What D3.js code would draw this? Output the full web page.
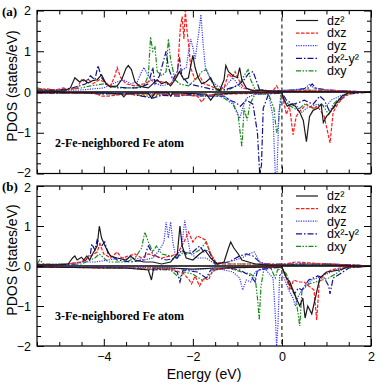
<!DOCTYPE html>
<html>
<head>
<meta charset="utf-8">
<script src="https://cdn.jsdelivr.net/npm/d3@7"></script>
<style>
  body { margin: 0; background: #fff; }
  .chart text { font-family: "Liberation Sans", Arial, sans-serif; }
  .chart .tag { font-family: "Liberation Serif", "Times New Roman", serif; font-weight: bold; }
</style>
</head>
<body>
<div class="chart"></div>
<script>
// orbital names, same order in both panels
var orbitals = ["dz\u00B2", "dxz", "dyz", "dx\u00B2-y\u00B2", "dxy"];
var panelTags = ["(a)", "(b)"];
var panelNotes = ["2-Fe-neighbored Fe atom", "3-Fe-neighbored Fe atom"];
var xMajor = [-4, -2, 0, 2];
var yMajor = [-2, -1, 0, 1, 2];

// ---- panel (a) : [energy eV, PDOS] ----
var aDz2Up = [[-5.5,0.02],[-5.2,0.03],[-4.9,0.02],[-4.75,0.1],[-4.65,0.35],[-4.55,0.25],[-4.45,0.3],[-4.35,0.22],[-4.25,0.28],[-4.15,0.3],[-4.05,0.42],[-3.95,0.2],[-3.85,0.12],[-3.7,0.15],[-3.6,0.3],[-3.5,0.58],[-3.45,0.65],[-3.38,0.55],[-3.3,0.25],[-3.2,0.15],[-3.1,0.12],[-3.0,0.1],[-2.9,0.2],[-2.8,0.3],[-2.7,0.2],[-2.6,0.25],[-2.5,0.15],[-2.4,0.3],[-2.3,0.5],[-2.2,0.3],[-2.1,0.35],[-2.0,0.9],[-1.95,0.6],[-1.88,0.35],[-1.8,0.2],[-1.7,0.25],[-1.6,0.35],[-1.5,0.1],[-1.4,0.03],[-1.3,0.3],[-1.26,0.65],[-1.2,0.5],[-1.1,0.4],[-1.0,0.35],[-0.95,0.6],[-0.9,0.3],[-0.8,0.1],[-0.7,0.05],[-0.6,0.02],[-0.45,0.05],[-0.35,0.02],[-0.1,0.02],[0,0.01],[0.5,0.01],[1,0.01],[2,0]];
var aDz2Dn = [[-5.5,-0.01],[-4,-0.02],[-3.6,-0.05],[-3.55,-0.12],[-3.48,-0.03],[-3,-0.03],[-2.93,-0.15],[-2.85,-0.02],[-2.55,-0.02],[-2.5,-0.1],[-2.45,-0.02],[-1.7,-0.05],[-1.6,-0.2],[-1.5,-0.05],[-1.0,-0.03],[-0.5,-0.02],[0,-0.02],[0.05,-0.2],[0.12,-0.35],[0.2,-0.3],[0.3,-0.35],[0.4,-0.5],[0.48,-0.7],[0.55,-1.22],[0.62,-0.6],[0.7,-0.45],[0.8,-0.4],[0.88,-0.3],[0.93,-0.75],[1.0,-0.6],[1.08,-0.5],[1.2,-0.3],[1.35,-0.1],[1.5,-0.02],[2,0]];
var aDxzUp = [[-5.5,0.05],[-5.3,0.08],[-5.1,0.05],[-4.9,0.1],[-4.8,0.05],[-4.6,0.1],[-4.5,0.3],[-4.42,0.25],[-4.35,0.32],[-4.25,0.2],[-4.1,0.3],[-4.0,0.25],[-3.85,0.15],[-3.75,0.4],[-3.7,0.6],[-3.62,0.35],[-3.5,0.2],[-3.3,0.15],[-3.1,0.2],[-2.9,0.3],[-2.7,0.25],[-2.5,0.2],[-2.35,0.4],[-2.28,1.6],[-2.24,1.85],[-2.2,1.3],[-2.17,2.0],[-2.13,1.5],[-2.08,1.0],[-2.05,0.6],[-1.95,0.3],[-1.85,0.4],[-1.75,0.2],[-1.6,0.15],[-1.45,0.05],[-1.3,0.1],[-1.2,0.45],[-1.12,0.35],[-1.05,0.5],[-0.95,0.25],[-0.85,0.1],[-0.6,0.03],[-0.2,0.03],[-0.12,0.15],[-0.05,0.02],[0.3,0.03],[0.9,0.05],[1.5,0.02],[2,0]];
var aDxzDn = [[-5.5,-0.02],[-4.2,-0.03],[-4.05,-0.1],[-3.9,-0.1],[-3.5,-0.05],[-2.5,-0.05],[-1.9,-0.1],[-1.8,-0.25],[-1.7,-0.08],[-1.2,-0.05],[-0.5,-0.03],[0,-0.03],[0.05,-0.3],[0.1,-0.55],[0.17,-0.35],[0.25,-1.05],[0.32,-0.6],[0.42,-0.45],[0.55,-0.3],[0.63,-0.35],[0.72,-0.4],[0.8,-0.35],[0.95,-0.6],[1.08,-1.25],[1.15,-0.5],[1.25,-0.3],[1.4,-0.1],[1.6,-0.02],[2,0]];
var aDyzUp = [[-5.5,0.03],[-4.5,0.05],[-4.0,0.1],[-3.7,0.25],[-3.55,0.3],[-3.4,0.2],[-3.25,0.25],[-3.15,0.5],[-3.1,0.6],[-3.0,0.4],[-2.9,0.25],[-2.7,0.15],[-2.5,0.2],[-2.3,0.5],[-2.15,0.6],[-2.05,1.3],[-2.0,1.1],[-1.95,0.8],[-1.9,1.2],[-1.85,1.6],[-1.82,1.9],[-1.78,1.3],[-1.72,0.6],[-1.68,0.5],[-1.6,0.3],[-1.45,0.15],[-1.3,0.1],[-1.1,0.35],[-1.0,0.2],[-0.9,0.1],[-0.7,0.05],[-0.2,0.02],[0.2,0.05],[0.5,0.08],[0.63,0.2],[0.7,0.1],[1.0,0.05],[1.5,0.02],[2,0]];
var aDyzDn = [[-5.5,-0.02],[-3.5,-0.03],[-2.5,-0.05],[-1.8,-0.1],[-1.3,-0.1],[-1.1,-0.25],[-1.0,-0.5],[-0.95,-0.65],[-0.88,-0.4],[-0.8,-0.15],[-0.6,-0.05],[-0.3,-0.05],[-0.2,-0.6],[-0.15,-2.0],[-0.11,-2.0],[-0.07,-0.5],[0,-0.05],[0.1,-0.3],[0.3,-0.3],[0.45,-0.5],[0.55,-0.4],[0.65,-0.35],[0.8,-0.3],[1.0,-0.35],[1.1,-0.2],[1.3,-0.1],[1.5,-0.02],[2,0]];
var aDx2Up = [[-5.5,0.05],[-5.0,0.05],[-4.7,0.1],[-4.4,0.2],[-4.3,0.4],[-4.2,0.3],[-4.13,0.65],[-4.05,0.35],[-3.9,0.15],[-3.5,0.1],[-3.2,0.1],[-3.0,0.2],[-2.9,0.6],[-2.85,0.2],[-2.75,0.4],[-2.65,0.8],[-2.6,1.0],[-2.55,0.6],[-2.45,0.3],[-2.35,0.5],[-2.3,0.85],[-2.25,0.4],[-2.1,0.2],[-1.9,0.15],[-1.7,0.1],[-1.5,0.05],[-1.3,0.05],[-1.0,0.15],[-0.85,0.3],[-0.75,0.45],[-0.65,0.5],[-0.58,0.3],[-0.5,0.05],[-0.2,0.02],[0.3,0.05],[0.6,0.1],[0.68,0.2],[0.75,0.1],[1.0,0.05],[1.5,0.02],[2,0]];
var aDx2Dn = [[-5.5,-0.03],[-4.5,-0.02],[-4.1,-0.05],[-3.5,-0.03],[-2.9,-0.15],[-2.7,-0.08],[-2.3,-0.1],[-2.0,-0.05],[-1.6,-0.1],[-1.3,-0.1],[-1.18,-0.2],[-1.05,-0.25],[-0.93,-0.35],[-0.8,-0.2],[-0.65,-0.3],[-0.55,-1.0],[-0.5,-2.0],[-0.46,-1.8],[-0.42,-0.4],[-0.3,-0.05],[0,-0.02],[0.1,-0.2],[0.25,-0.3],[0.4,-0.25],[0.5,-0.2],[0.7,-0.3],[0.85,-0.1],[0.95,-0.2],[1.08,-0.5],[1.15,-0.4],[1.3,-0.2],[1.5,-0.05],[2,0]];
var aDxyUp = [[-5.5,0.1],[-5.3,0.05],[-4.9,0.05],[-4.5,0.1],[-4.3,0.15],[-4.0,0.2],[-3.7,0.1],[-3.3,0.1],[-3.1,0.15],[-3.0,0.4],[-2.95,1.35],[-2.9,1.0],[-2.85,1.1],[-2.8,0.5],[-2.7,0.4],[-2.6,0.5],[-2.55,1.3],[-2.5,0.8],[-2.4,0.3],[-2.3,0.2],[-2.1,0.15],[-1.95,0.3],[-1.8,0.5],[-1.7,0.55],[-1.55,0.2],[-1.4,0.05],[-1.2,0.05],[-0.95,0.2],[-0.85,0.4],[-0.76,0.55],[-0.7,0.3],[-0.6,0.05],[-0.2,0.03],[0.5,0.05],[1,0.03],[2,0]];
var aDxyDn = [[-5.5,-0.03],[-4.5,-0.03],[-3.5,-0.05],[-3.0,-0.1],[-2.5,-0.05],[-1.8,-0.1],[-1.5,-0.05],[-1.3,-0.15],[-1.1,-0.3],[-0.98,-0.6],[-0.9,-1.35],[-0.85,-0.4],[-0.78,-0.7],[-0.72,-0.3],[-0.6,-0.05],[-0.3,-0.05],[-0.18,-0.4],[-0.12,-1.0],[-0.08,-0.8],[-0.03,-0.1],[0.05,-0.2],[0.2,-0.35],[0.35,-0.45],[0.5,-0.3],[0.7,-0.4],[0.9,-0.3],[1.05,-0.55],[1.15,-0.3],[1.3,-0.15],[1.5,-0.02],[2,0]];

// ---- panel (b) ----
var bDz2Up = [[-5.5,0.03],[-5.0,0.03],[-4.8,0.05],[-4.7,0.2],[-4.65,0.25],[-4.6,0.15],[-4.5,0.22],[-4.45,0.15],[-4.38,0.25],[-4.32,0.15],[-4.25,0.3],[-4.15,0.5],[-4.1,1.0],[-4.05,0.7],[-3.95,0.45],[-3.85,0.25],[-3.7,0.2],[-3.5,0.15],[-3.4,0.25],[-3.3,0.15],[-3.1,0.1],[-2.9,0.1],[-2.7,0.05],[-2.5,0.1],[-2.35,0.3],[-2.29,1.0],[-2.24,0.5],[-2.15,0.2],[-2.0,0.15],[-1.85,0.3],[-1.73,0.4],[-1.6,0.2],[-1.45,0.05],[-1.3,0.1],[-1.2,0.45],[-1.15,0.6],[-1.08,0.45],[-0.98,0.3],[-0.9,0.15],[-0.6,0.05],[-0.3,0.02],[0.5,0.02],[1,0.02],[2,0]];
var bDz2Dn = [[-5.5,-0.02],[-4.0,-0.05],[-3.5,-0.05],[-3.0,-0.1],[-2.93,-0.35],[-2.88,-0.05],[-2.5,-0.05],[-2.0,-0.08],[-1.5,-0.05],[-0.5,-0.03],[0,-0.03],[0.1,-0.3],[0.18,-0.4],[0.28,-0.7],[0.4,-1.0],[0.47,-0.8],[0.52,-1.3],[0.58,-1.0],[0.67,-1.2],[0.75,-0.8],[0.85,-0.3],[1.0,-0.15],[1.3,-0.1],[1.5,-0.02],[2,0]];
var bDxzUp = [[-5.5,0.05],[-5.0,0.03],[-4.5,0.1],[-4.3,0.25],[-4.15,0.35],[-4.09,0.55],[-4.0,0.3],[-3.85,0.2],[-3.7,0.35],[-3.6,0.2],[-3.45,0.25],[-3.3,0.3],[-3.15,0.2],[-3.0,0.3],[-2.85,0.25],[-2.7,0.2],[-2.5,0.25],[-2.35,0.3],[-2.2,0.6],[-2.1,0.85],[-2.0,0.6],[-1.9,0.75],[-1.8,0.7],[-1.72,0.65],[-1.6,0.3],[-1.5,0.1],[-1.3,0.05],[-1.0,0.05],[-0.5,0.05],[0,0.03],[0.3,0.1],[0.6,0.08],[1.0,0.05],[1.5,0.03],[2,0]];
var bDxzDn = [[-5.5,-0.02],[-4.0,-0.05],[-3.0,-0.05],[-2.4,-0.1],[-2.2,-0.2],[-2.08,-0.35],[-2.03,-0.45],[-1.95,-0.25],[-1.85,-0.5],[-1.75,-0.3],[-1.65,-0.35],[-1.55,-0.1],[-1.2,-0.05],[-0.5,-0.03],[0,-0.03],[0.1,-0.3],[0.18,-0.6],[0.26,-0.35],[0.38,-0.4],[0.5,-0.4],[0.6,-0.5],[0.72,-0.6],[0.78,-1.35],[0.84,-0.4],[0.95,-0.2],[1.1,-0.1],[1.3,-0.05],[2,0]];
var bDyzUp = [[-5.5,0.03],[-4.8,0.05],[-4.5,0.1],[-4.2,0.1],[-3.9,0.15],[-3.6,0.2],[-3.3,0.2],[-3.1,0.15],[-2.9,0.2],[-2.75,0.4],[-2.65,0.6],[-2.6,1.1],[-2.55,0.7],[-2.5,1.1],[-2.45,0.6],[-2.38,0.2],[-2.25,0.5],[-2.18,1.15],[-2.14,0.8],[-2.05,0.3],[-1.9,0.2],[-1.7,0.2],[-1.5,0.05],[-1.2,0.1],[-0.9,0.2],[-0.75,0.3],[-0.62,0.35],[-0.5,0.1],[-0.3,0.03],[0.3,0.05],[0.6,0.05],[1.0,0.05],[2,0]];
var bDyzDn = [[-5.5,-0.02],[-3.5,-0.03],[-2.5,-0.05],[-2.0,-0.1],[-1.5,-0.05],[-1.1,-0.15],[-0.95,-0.3],[-0.88,-0.6],[-0.8,-0.35],[-0.7,-0.4],[-0.6,-0.15],[-0.4,-0.05],[-0.2,-0.3],[-0.15,-1.2],[-0.12,-2.0],[-0.09,-1.5],[-0.05,-0.2],[0.05,-0.3],[0.15,-0.6],[0.25,-0.8],[0.3,-1.0],[0.37,-0.75],[0.45,-0.6],[0.55,-0.5],[0.65,-0.35],[0.8,-0.3],[1.0,-0.2],[1.2,-0.1],[1.5,-0.02],[2,0]];
var bDx2Up = [[-5.5,0.03],[-5.0,0.03],[-4.6,0.05],[-4.4,0.15],[-4.3,0.3],[-4.27,0.55],[-4.2,0.4],[-4.15,0.65],[-4.05,0.5],[-3.98,0.6],[-3.9,0.3],[-3.7,0.15],[-3.4,0.1],[-3.1,0.15],[-3.05,0.35],[-3.0,0.5],[-2.9,0.3],[-2.75,0.2],[-2.6,0.15],[-2.35,0.2],[-2.25,0.4],[-2.15,0.3],[-2.0,0.35],[-1.85,0.5],[-1.75,0.35],[-1.65,0.4],[-1.5,0.05],[-1.2,0.1],[-0.95,0.25],[-0.8,0.3],[-0.65,0.25],[-0.5,0.1],[-0.4,0.05],[0.1,0.05],[0.5,0.05],[1.0,0.05],[1.5,0.03],[2,0]];
var bDx2Dn = [[-5.5,-0.03],[-4.5,-0.03],[-3.5,-0.05],[-2.9,-0.1],[-2.5,-0.08],[-2.35,-0.15],[-2.29,-0.4],[-2.22,-0.1],[-1.9,-0.15],[-1.7,-0.3],[-1.6,-0.1],[-1.2,-0.05],[-0.95,-0.1],[-0.7,-0.25],[-0.6,-0.4],[-0.55,-0.1],[-0.2,-0.05],[0,-0.03],[0.1,-0.3],[0.18,-0.5],[0.28,-0.7],[0.37,-0.55],[0.45,-0.6],[0.6,-0.35],[0.8,-0.25],[0.95,-0.3],[1.05,-0.5],[1.08,-0.7],[1.15,-0.3],[1.3,-0.2],[1.5,-0.05],[2,0]];
var bDxyUp = [[-5.5,0.05],[-5.44,0.15],[-5.35,0.05],[-5.0,0.05],[-4.5,0.05],[-4.2,0.2],[-4.1,0.3],[-3.9,0.1],[-3.5,0.1],[-3.3,0.2],[-3.15,0.45],[-3.08,0.85],[-3.0,0.6],[-2.9,0.35],[-2.82,0.5],[-2.7,0.3],[-2.5,0.25],[-2.35,0.2],[-2.2,0.35],[-2.0,0.3],[-1.85,0.4],[-1.7,0.6],[-1.6,0.3],[-1.45,0.05],[-1.2,0.05],[-0.8,0.05],[-0.4,0.05],[0,0.03],[0.5,0.05],[1,0.05],[2,0]];
var bDxyDn = [[-5.5,-0.02],[-4.5,-0.03],[-3.5,-0.05],[-2.5,-0.1],[-2.3,-0.3],[-2.2,-0.15],[-2.0,-0.2],[-1.8,-0.35],[-1.7,-0.3],[-1.5,-0.1],[-1.2,-0.05],[-0.9,-0.15],[-0.7,-0.2],[-0.6,-0.3],[-0.54,-0.9],[-0.51,-1.35],[-0.47,-0.5],[-0.4,-0.05],[-0.25,-0.05],[-0.15,-0.3],[-0.1,-0.1],[0,-0.05],[0.1,-0.2],[0.2,-0.5],[0.3,-0.7],[0.4,-1.5],[0.45,-0.6],[0.6,-0.45],[0.75,-0.4],[0.9,-0.35],[1.05,-0.3],[1.2,-0.2],[1.4,-0.05],[2,0]];

var panelData = [
  [[aDz2Up, aDz2Dn], [aDxzUp, aDxzDn], [aDyzUp, aDyzDn], [aDx2Up, aDx2Dn], [aDxyUp, aDxyDn]],
  [[bDz2Up, bDz2Dn], [bDxzUp, bDxzDn], [bDyzUp, bDyzDn], [bDx2Up, bDx2Dn], [bDxyUp, bDxyDn]]
];

// styles per orbital
var colors = ["#1a1a1a", "#ff1a1a", "#3b3bff", "#101090", "#1a8c1a"];
var dashes = ["none", "3.5,1.5", "1.2,1.2", "6,2,1.5,2", "5,1.5,1.5,1.5,1.5,1.5"];

var width = 382, height = 384;
var left = 37, right = 371;
var boxes = [{top: 10.5, bottom: 173.5}, {top: 186, bottom: 346}];

var x = d3.scaleLinear().domain([-5.5, 2]).range([left, right]);

var svg = d3.select(".chart").append("svg")
            .attr("width", width)
            .attr("height", height);

var xMinor = d3.range(-5.5, 2.01, 0.5).filter(function(v) { return xMajor.indexOf(v) < 0; });
var yMinor = d3.range(-2, 2.01, 0.25).filter(function(v) { return yMajor.indexOf(v) < 0; });

boxes.forEach(function(box, p) {
  var y = d3.scaleLinear().domain([-2, 2]).range([box.bottom, box.top]);
  var g = svg.append("g");

  g.append("clipPath").attr("id", "clip" + p)
   .append("rect")
   .attr("x", left).attr("y", box.top)
   .attr("width", right - left).attr("height", box.bottom - box.top);

  // zero line and Fermi level
  g.append("line")
   .attr("x1", left).attr("x2", right)
   .attr("y1", y(0)).attr("y2", y(0))
   .attr("stroke", "#000").attr("stroke-width", 1.6);
  g.append("line")
   .attr("x1", x(0)).attr("x2", x(0))
   .attr("y1", box.top).attr("y2", box.bottom)
   .attr("stroke", "#000").attr("stroke-width", 1)
   .attr("stroke-dasharray", "4,3");

  var line = d3.line()
               .x(function(d) { return x(d[0]); })
               .y(function(d) { return y(d[1]); });

  var curves = g.append("g").attr("clip-path", "url(#clip" + p + ")");
  // draw dz2 last so the black line sits on top like in the figure
  [4, 3, 2, 1, 0].forEach(function(k) {
    panelData[p][k].forEach(function(spin) {
      curves.append("path")
            .attr("d", line(spin))
            .attr("fill", "none")
            .attr("stroke", colors[k])
            .attr("stroke-width", 1.2)
            .attr("stroke-dasharray", dashes[k]);
    });
  });

  // ticks on all four sides, pointing in
  function ticks(axis, vals, size, tx, ty, fmt) {
    var a = g.append("g")
             .attr("transform", "translate(" + tx + "," + ty + ")")
             .call(axis.tickValues(vals).tickSize(-size).tickPadding(6)
                       .tickFormat(fmt ? fmt : function() { return ""; }));
    a.select(".domain").remove();
    a.selectAll("line").attr("stroke", "#000");
    a.selectAll("text").attr("font-size", 12.5).attr("fill", "#000");
    return a;
  }
  var yl = ticks(d3.axisLeft(y), yMajor, 7, left, 0, d3.format("d"));
  // keep the -2 of (a) and the 2 of (b) apart, as in the figure
  yl.selectAll("text").attr("dy", function(d) {
    if (p === 0 && d === -2) return "0.2em";
    if (p === 1 && d === 2) return "0.42em";
    return "0.32em";
  });
  ticks(d3.axisLeft(y), yMinor, 4, left, 0);
  ticks(d3.axisRight(y), yMajor, 7, right, 0);
  ticks(d3.axisRight(y), yMinor, 4, right, 0);
  ticks(d3.axisTop(x), xMajor, 7, 0, box.top);
  ticks(d3.axisTop(x), xMinor, 4, 0, box.top);
  ticks(d3.axisBottom(x), xMajor, 7, 0, box.bottom, p === 1 ? d3.format("d") : null);
  ticks(d3.axisBottom(x), xMinor, 4, 0, box.bottom);

  g.append("rect")
   .attr("x", left).attr("y", box.top)
   .attr("width", right - left).attr("height", box.bottom - box.top)
   .attr("fill", "none").attr("stroke", "#000").attr("stroke-width", 1.2);

  // y title
  g.append("text")
   .attr("transform", "translate(17," + ((box.top + box.bottom) / 2 - 6) + ") rotate(-90)")
   .attr("text-anchor", "middle")
   .attr("font-size", 14)
   .text("PDOS (states/eV)");

  g.append("text").attr("class", "tag")
   .attr("x", 2).attr("y", box.top + 5)
   .attr("font-size", 13)
   .text(panelTags[p]);

  g.append("text").attr("class", "tag")
   .attr("x", 55).attr("y", y(-1.35))
   .attr("font-size", 12)
   .text(panelNotes[p]);

  // legend
  var leg = g.selectAll(".leg")
             .data(orbitals)
             .enter().append("g")
             .attr("transform", function(d, i) {
               return "translate(296," + (box.top + 10 + i * 12.6) + ")";
             });
  leg.append("line")
     .attr("x1", 0).attr("x2", 22)
     .attr("stroke", function(d, i) { return colors[i]; })
     .attr("stroke-width", 1.2)
     .attr("stroke-dasharray", function(d, i) { return dashes[i]; });
  leg.append("text")
     .attr("x", 31).attr("dy", "0.35em")
     .attr("font-size", 12.5)
     .text(function(d) { return d; });
});

svg.append("text")
   .attr("x", (left + right) / 2)
   .attr("y", 379)
   .attr("text-anchor", "middle")
   .attr("font-size", 14)
   .text("Energy (eV)");
</script>
</body>
</html>
